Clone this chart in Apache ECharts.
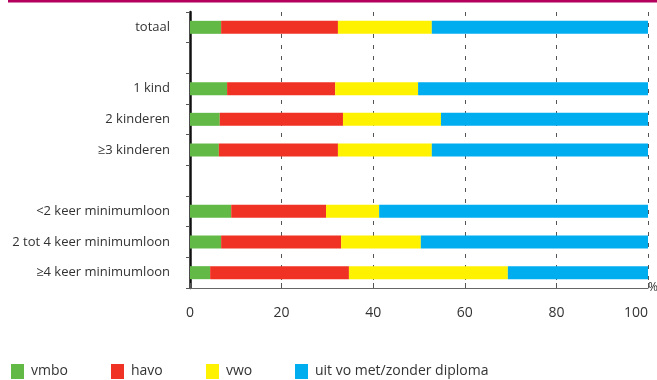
<!DOCTYPE html>
<html><head><meta charset="utf-8">
<script src="https://cdn.jsdelivr.net/npm/echarts@6/dist/echarts.min.js"></script>
<style>html,body{margin:0;padding:0;background:#fff}#c{width:657px;height:380px}</style>
</head><body><div id="c"></div>
<script>
const categories = ['totaal', '', '1 kind', '2 kinderen', '≥3 kinderen', '', '<2 keer minimumloon', '2 tot 4 keer minimumloon', '≥4 keer minimumloon'];
const vmbo  = [6.8, null, 8.1, 6.5, 6.3, null, 9.0, 6.8, 4.4];
const havo  = [25.5, null, 23.6, 26.9, 26.0, null, 20.7, 26.2, 30.3];
const vwo   = [20.5, null, 18.1, 21.4, 20.5, null, 11.6, 17.4, 34.7];
const uitvo = [47.2, null, 50.2, 45.2, 47.2, null, 58.7, 49.6, 30.6];
const seriesNames = ['vmbo', 'havo', 'vwo', 'uit vo met/zonder diploma'];
const xTicks = [0, 20, 40, 60, 80, 100];
const colors = ['#62b946', '#ef3224', '#fff200', '#00adef'];

const font = 'Open Sans';
const chart = echarts.init(document.getElementById('c'), null, {renderer: 'canvas'});
const dataSets = [vmbo, havo, vwo, uitvo];
const legendLefts = [11, 111, 206, 295];
chart.setOption({
  animation: false,
  textStyle: {fontFamily: font},
  graphic: [{type: 'rect', shape: {x: 8, y: 0, width: 649, height: 2.5}, style: {fill: '#b4005c'}, silent: true}],
  legend: seriesNames.map((n, i) => ({
    data: [n], left: legendLefts[i], top: 364, itemWidth: 13, itemHeight: 15, itemGap: 0, padding: 0,
    icon: 'rect', textStyle: {fontFamily: font, fontSize: 14, color: '#333', padding: [0, 0, 0, 2]}
  })),
  grid: {left: 190, right: 9, top: 12, bottom: 92, containLabel: false, outerBoundsMode: 'none'},
  xAxis: {
    type: 'value', min: 0, max: 100, interval: 20,
    name: '%', nameLocation: 'end', nameGap: 0,
    nameTextStyle: {fontFamily: font, fontSize: 12, color: '#333', align: 'left', verticalAlign: 'middle'},
    axisLine: {show: true, lineStyle: {color: '#666', width: 1}},
    axisTick: {show: true, inside: true, length: 5, lineStyle: {color: '#555'}},
    axisLabel: {fontFamily: font, fontSize: 14, color: '#333', margin: 18, alignMaxLabel: 'right',
      formatter: v => xTicks.includes(v) ? String(v) : ''},
    splitLine: {show: true, lineStyle: {color: '#555', type: [4, 7], width: 1}}
  },
  yAxis: {
    type: 'category', data: categories, inverse: true,
    axisLine: {show: true, lineStyle: {color: '#111', width: 2.5}},
    axisTick: {show: true, length: 4, lineStyle: {color: '#555'}},
    axisLabel: {fontFamily: font, fontSize: 13, color: '#333', margin: 20},
    splitLine: {show: false}
  },
  series: seriesNames.map((n, i) => ({
    name: n, type: 'bar', stack: 'total', data: dataSets[i], barWidth: 13,
    itemStyle: {color: colors[i]}, emphasis: {disabled: true}
  }))
});
</script></body></html>
